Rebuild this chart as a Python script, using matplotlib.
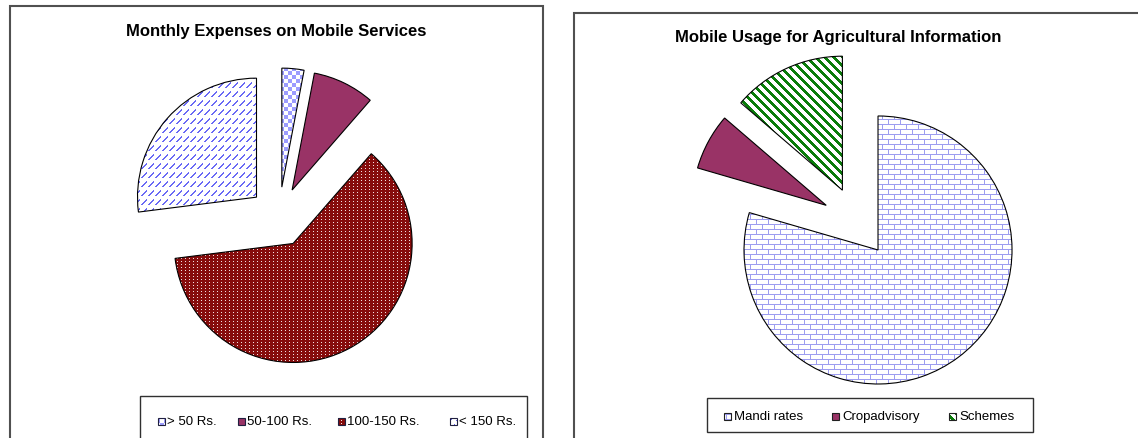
import numpy as np
import matplotlib
matplotlib.use('Agg')
import matplotlib.pyplot as plt
from matplotlib.colors import to_rgb
from matplotlib.patches import Rectangle

# canvas size in pixels, the axes below uses pixel units
W, H = 1138, 439

# left chart: monthly spend on mobile services (% of respondents)
spend_labels = ['> 50 Rs.', '50-100 Rs.', '100-150 Rs.', '< 150 Rs.']
spend_share = [3.0, 8.4, 61.6, 27.0]

# right chart: use of the mobile for farm information (% of respondents)
usage_labels = ['Mandi rates', 'Cropadvisory', 'Schemes']
usage_share = [79.5, 6.8, 13.7]

rows, cols = np.mgrid[0:H, 0:W]


# fill patterns, built as full size images and clipped to each patch later
def blank(bg):
    img = np.ones((H, W, 3))
    img[:] = to_rgb(bg)
    return img

def solid(c):
    return blank(c)

def checker(c, size=4):
    img = blank('white')
    mask = ((rows // size) + (cols // size)) % 2 == 0
    img[mask] = to_rgb(c)
    return img

def dotted(c):
    img = blank(c)
    mask = (rows % 3 == 1) & (cols % 4 == 1)
    img[mask] = to_rgb('#f0e0e0')
    return img

def diag_dashes(c):
    img = blank('white')
    u = cols % 7
    v = rows % 9
    mask = (v >= 2) & (v <= 7) & ((u + v == 8) | (u + v == 9))
    img[mask] = to_rgb(c)
    return img

def bricks(c):
    img = blank('white')
    course = rows // 5
    shift = np.where(course % 2 == 0, 0, 6)
    mask = (rows % 5 == 0) | ((cols + shift) % 12 == 0)
    img[mask] = to_rgb(c)
    return img

def stripes(c):
    img = blank('white')
    mask = (cols - rows) % 9 < 4
    img[mask] = to_rgb(c)
    return img


spend_fill = [checker('#9c9cff'), solid('#993366'), dotted('#860c0c'), diag_dashes('#6a6af5')]
usage_fill = [bricks('#9d9df0'), solid('#993366'), stripes('#0a7d0a')]

fig = plt.figure(figsize=(W / 100, H / 100), dpi=100)
ax = fig.add_axes([0, 0, 1, 1])


def textured(patch, tex):
    patch.set_facecolor('none')
    patch.set_zorder(3)
    im = ax.imshow(tex, extent=(0, W, 0, H), interpolation='nearest', zorder=2)
    im.set_clip_path(patch)


# panel frames (the right one runs off the edge)
ax.add_patch(Rectangle((10, -10), 533, H - 7 + 10, fill=False, edgecolor='#505050', lw=1.5))
ax.add_patch(Rectangle((574, -10), 600, H - 14 + 10, fill=False, edgecolor='#505050', lw=1.5))

# titles
ax.text(276, H - 31, 'Monthly Expenses on Mobile Services', ha='center', va='center',
        fontsize=12, fontweight='bold', family='Liberation Sans')
ax.text(838, H - 37, 'Mobile Usage for Agricultural Information', ha='center', va='center',
        fontsize=12, fontweight='bold', family='Liberation Sans')

# pies, clockwise from twelve o'clock, every slice pulled out
wedges, _ = ax.pie(spend_share, startangle=90, counterclock=False,
                   center=(279, H - 218), radius=119, explode=[30] * len(spend_share),
                   wedgeprops=dict(edgecolor='black', linewidth=0.8))
for w, tex in zip(wedges, spend_fill):
    textured(w, tex)

wedges2, _ = ax.pie(usage_share, startangle=90, counterclock=False,
                    center=(857, H - 223), radius=134, explode=[35] * len(usage_share),
                    wedgeprops=dict(edgecolor='black', linewidth=0.8))
for w, tex in zip(wedges2, usage_fill):
    textured(w, tex)

# legends
ax.add_patch(Rectangle((140, -10), 387, H - 397 + 10, fill=False, edgecolor='#303030', lw=1))
ax.add_patch(Rectangle((707, H - 433), 326, 34, fill=False, edgecolor='#303030', lw=1))

spend_key_x = [158, 238, 338, 450]
for x, lab, tex in zip(spend_key_x, spend_labels, spend_fill):
    box = Rectangle((x, H - 425.5), 7, 7, edgecolor='#202040', lw=0.8)
    ax.add_patch(box)
    textured(box, tex)
    ax.text(x + 9, H - 422, lab, ha='left', va='center', fontsize=9.5, family='Liberation Sans')

usage_key_x = [724, 832, 949]
for x, lab, tex in zip(usage_key_x, usage_labels, usage_fill):
    box = Rectangle((x, H - 420.5), 7, 7, edgecolor='#202020', lw=0.8)
    ax.add_patch(box)
    textured(box, tex)
    ax.text(x + 10, H - 417, lab, ha='left', va='center', fontsize=9.5, family='Liberation Sans')

ax.set_xlim(0, W)
ax.set_ylim(0, H)
ax.set_aspect('auto')
ax.axis('off')

fig.savefig('out.png', dpi=100, facecolor='white')
